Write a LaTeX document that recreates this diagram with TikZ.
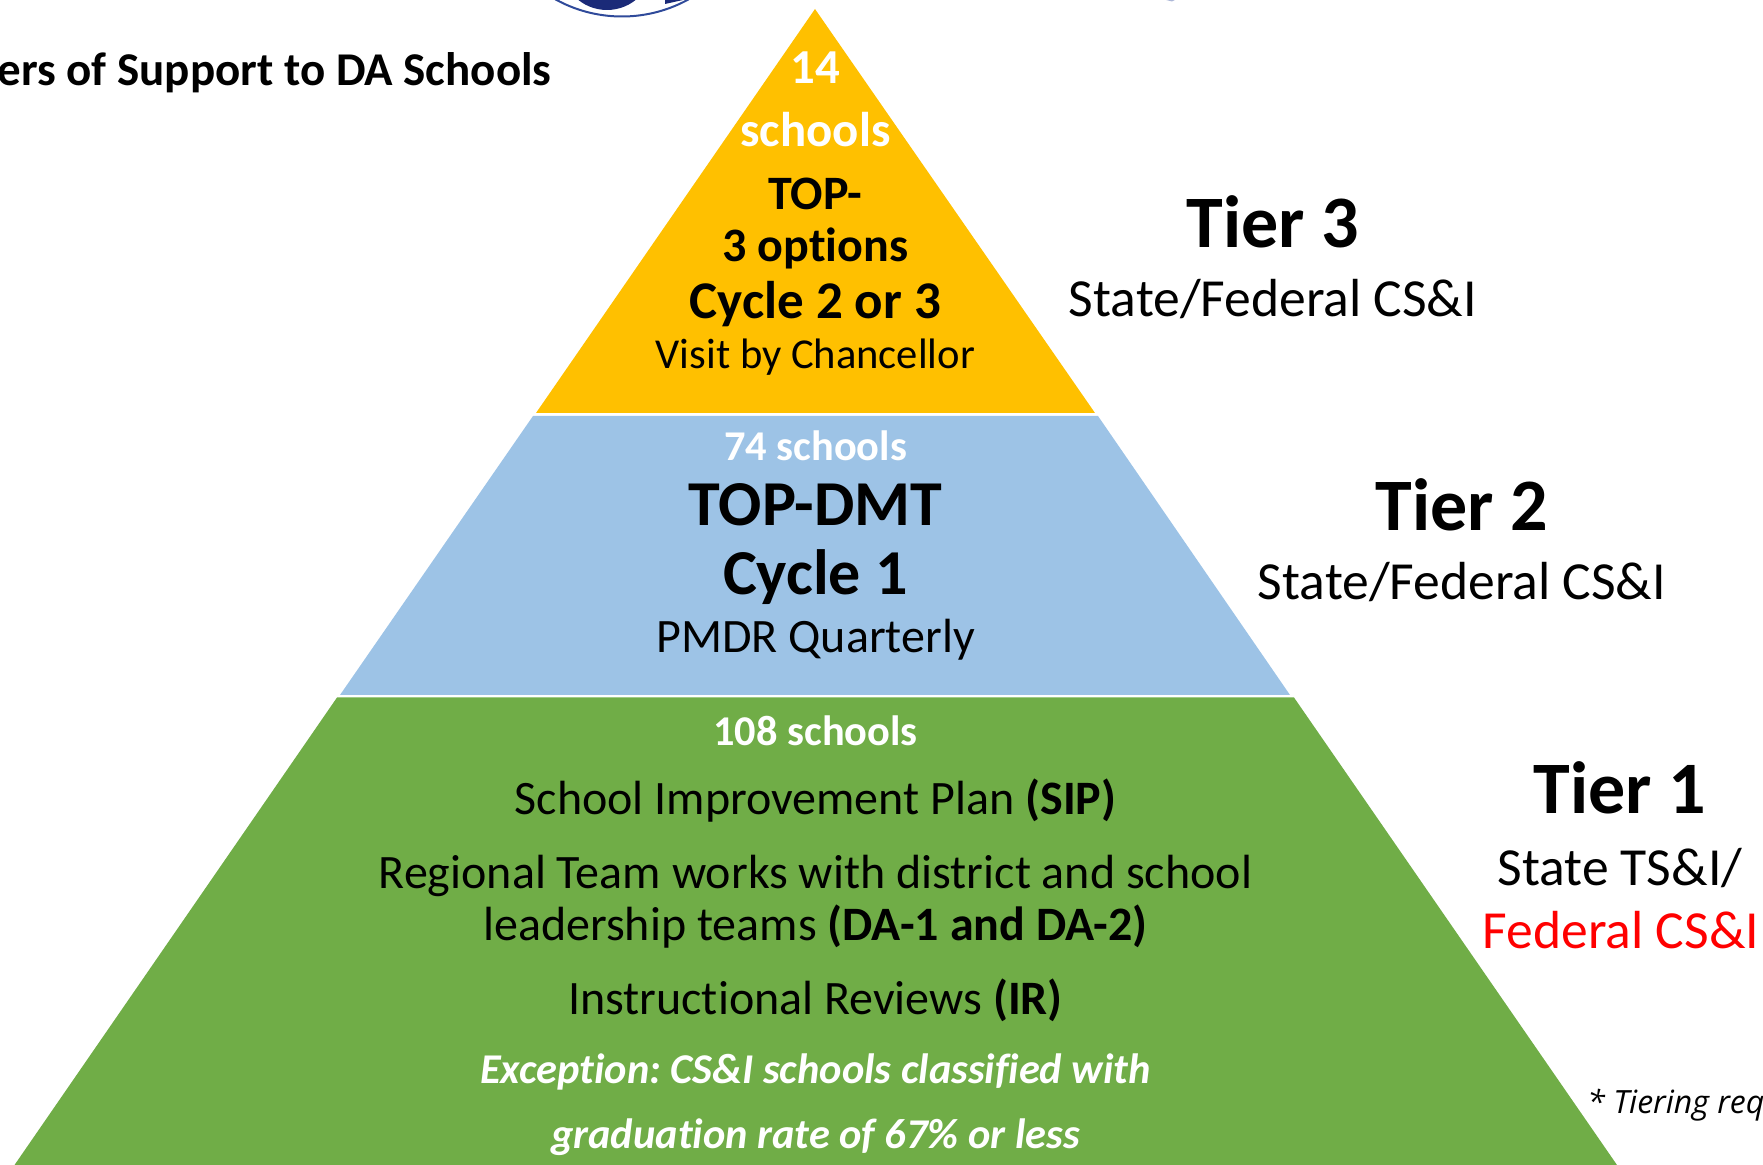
\documentclass[tikz,border=0pt]{standalone}
\usepackage{fontspec}
\setmainfont{Carlito}[Ligatures=CommonOff]
\newfontfamily\notefont{Open Sans}
\frenchspacing
\definecolor{topgold}{HTML}{FFC000}
\definecolor{midblue}{HTML}{9DC3E6}
\definecolor{lowgreen}{HTML}{70AD47}
\definecolor{sealblue}{HTML}{1B2A78}
\definecolor{ringblue}{HTML}{2F4A9A}
\tikzset{
	every node/.style={inner sep=0pt, anchor=base, align=center},
	tiername/.style={font=\fontsize{37}{40}\selectfont\bfseries},
	tierinfo/.style={font=\fontsize{26.8}{30}\selectfont},
	count/.style={text=white, font=\fontsize{21.2}{24}\selectfont\bfseries},
	apexcount/.style={text=white, font=\fontsize{24.4}{28}\selectfont\bfseries},
	bigline/.style={font=\fontsize{32}{36}\selectfont\bfseries},
	midline/.style={font=\fontsize{24}{28}\selectfont\bfseries},
	plainline/.style={font=\fontsize{24}{28}\selectfont},
	excline/.style={text=white, font=\fontsize{21.2}{26}\selectfont\bfseries\itshape}
}
\begin{document}
\begin{tikzpicture}[x=0.5pt, y=-0.5pt]
	\useasboundingbox (0,0) rectangle (1763,1165);
	\begin{scope}
	\clip (0,0) rectangle (1763,1165);
	% seal, cut off by the top edge
	\draw[ringblue, line width=1pt] (622,-121) circle [radius=137.5];
	\fill[sealblue] (607,-34) ellipse [x radius=45, y radius=44];
	\fill[sealblue] (665,0) -- (683,0) -- (665,4) -- cycle;
	\fill[ringblue!40] (1166,0) -- (1175,0) -- (1172,1.5) -- cycle;
	\end{scope}
	% pyramid
	\fill[topgold] (815,9) -- (1095,413) -- (536,413) -- cycle;
	\fill[midblue] (533,416) -- (1098,416) -- (1290,695) -- (340,695) -- cycle;
	\fill[lowgreen] (337,697.5) -- (1294,697.5) -- (1617,1165) -- (14.5,1165) -- cycle;
	% top tier
	\node[apexcount] (topcount) at (815.5,84) {14};
	\node[apexcount] (topschools) at (815.5,147) {schools};
	\node[midline] (topname) at (815.5,210) {TOP-};
	\node[midline] (topoptions) at (815.5,262) {3 options};
	\node[midline, font=\fontsize{26.5}{30}\selectfont\bfseries] (topcycle) at (815.5,319) {Cycle 2 or 3};
	\node[plainline, font=\fontsize{21.3}{26}\selectfont] (topvisit) at (815.5,369) {Visit by Chancellor};
	% middle tier
	\node[count] (midcount) at (815.5,461) {74 schools};
	\node[bigline] (midname) at (815.5,526) {TOP-DMT};
	\node[bigline] (midcycle) at (815.5,595) {Cycle 1};
	\node[plainline] (midpmdr) at (815.5,653) {PMDR Quarterly};
	% bottom tier
	\node[count] (lowcount) at (815.5,746) {108 schools};
	\node[plainline] (lowsip) at (815.5,814) {School Improvement Plan \textbf{(SIP)}};
	\node[plainline] (lowteam) at (815.5,888) {Regional Team works with district and school};
	\node[plainline] (lowlead) at (815.5,940) {leadership teams \textbf{(DA-1 and DA-2)}};
	\node[plainline] (lowir) at (815.5,1014) {Instructional Reviews \textbf{(IR)}};
	\node[excline] (lowexc) at (815.5,1083) {Exception: CS\&I schools classified with};
	\node[excline] (lowgrad) at (815.5,1148) {graduation rate of 67\% or less};
	% labels beside the pyramid
	\node[tiername] (tierthree) at (1273,248) {Tier 3};
	\node[tierinfo] (infothree) at (1273,317) {State/Federal CS\&I};
	\node[tiername] (tiertwo) at (1462,531) {Tier 2};
	\node[tierinfo] (infotwo) at (1462,600) {State/Federal CS\&I};
	\node[tiername] (tierone) at (1620,813) {Tier 1};
	\node[tierinfo] (infoone) at (1620,885) {State TS\&I/};
	\node[tierinfo, text=red] (infofed) at (1621,948) {Federal CS\&I};
	\node[anchor=base east, font=\fontsize{23.5}{26}\selectfont\bfseries] (heading) at (552,86) {ers of Support to DA Schools};
	\node[anchor=base west, font=\fontsize{16}{20}\notefont\itshape] (tiernote) at (1587,1113) {* Tiering req};
\end{tikzpicture}
\end{document}
